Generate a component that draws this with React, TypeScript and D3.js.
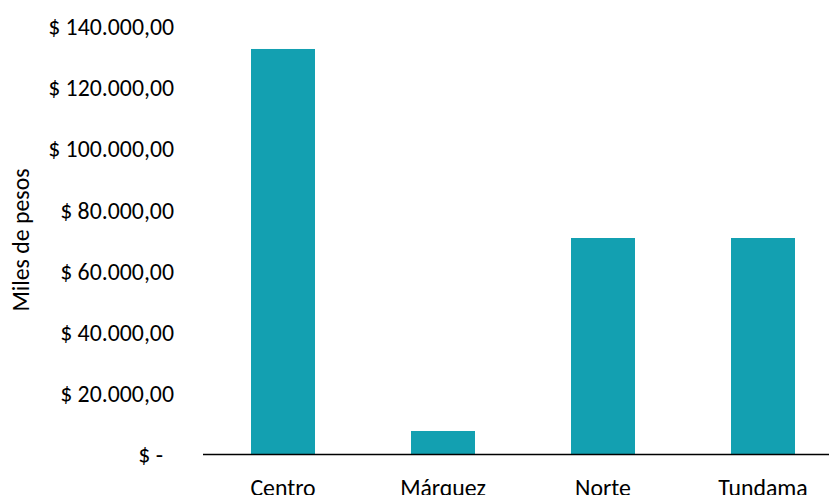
import React from "react";
import * as d3 from "d3";

const categories = ["Centro", "Márquez", "Norte", "Tundama"];
const values = [132800, 7700, 70900, 70900];
const tickValues = [0, 20000, 40000, 60000, 80000, 100000, 120000, 140000];
const tickLabels = ["$ -", "$ 20.000,00", "$ 40.000,00", "$ 60.000,00", "$ 80.000,00", "$ 100.000,00", "$ 120.000,00", "$ 140.000,00"];
const yTitle = "Miles de pesos";

const W = 831;
const H = 495;
const FONT = "Carlito, Calibri, 'Open Sans', 'Noto Sans', sans-serif";
const FS = 23.8;

export default function App() {
  const x = d3.scaleBand<string>().domain(categories).range([203, 843]).paddingInner(0.6).paddingOuter(0.3);
  const y = d3.scaleLinear().domain([0, 140000]).range([454.5, 27]);
  return (
    <svg width={W} height={H} style={{ position: "absolute", left: 0, top: 0, background: "#fff" }} fontFamily={FONT}>
      {categories.map((c, i) => (
        <rect key={c} x={x(c)} y={y(values[i])} width={x.bandwidth()} height={y(0) - y(values[i])} fill="#13A0B1" />
      ))}
      <line x1={203} x2={829} y1={y(0)} y2={y(0)} stroke="#000" strokeWidth={1.5} />
      {tickValues.map((t, i) => (
        <text key={t} x={t === 0 ? 163 : 174} y={y(t)} dy="0.35em" textAnchor="end" fontSize={FS} fill="#000">
          {tickLabels[i]}
        </text>
      ))}
      {categories.map((c) => (
        <text key={c} x={(x(c) as number) + x.bandwidth() / 2} y={496} textAnchor="middle" fontSize={FS} fill="#000">
          {c}
        </text>
      ))}
      <text transform={`translate(29,240) rotate(-90)`} textAnchor="middle" fontSize={FS} fill="#000">
        {yTitle}
      </text>
    </svg>
  );
}
